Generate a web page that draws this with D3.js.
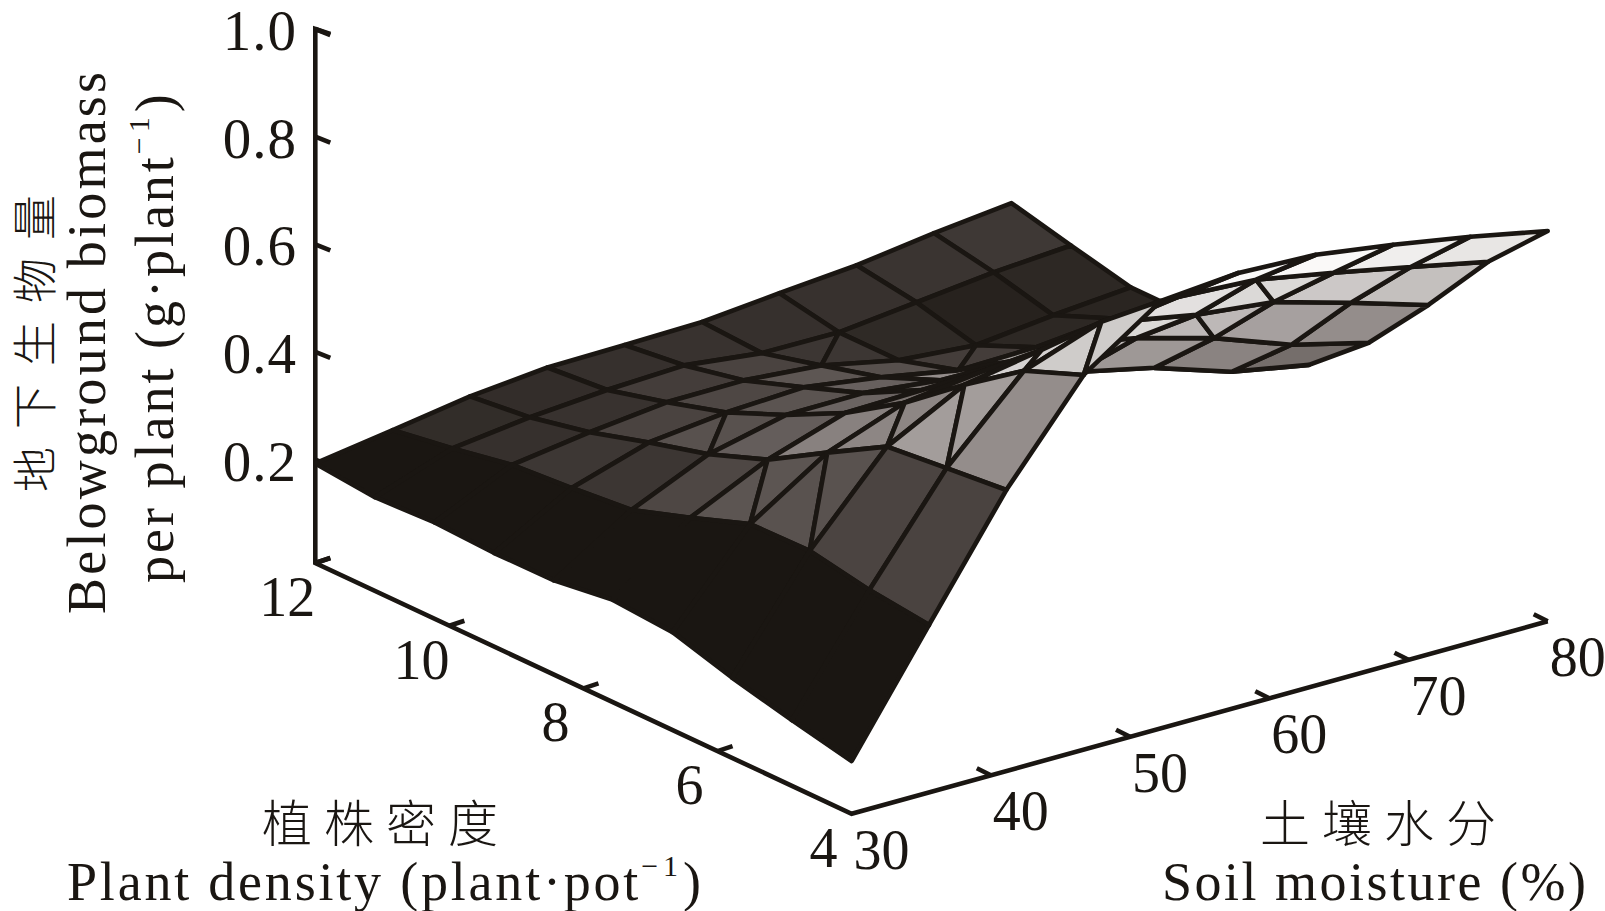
<!DOCTYPE html>
<html><head><meta charset="utf-8">
<style>html,body{margin:0;padding:0;background:#fff}svg{display:block}text{fill:#1a1612}</style>
<script src="https://cdn.jsdelivr.net/npm/d3@7"></script></head><body>
<svg id="c" width="1605" height="911"></svg>
<script>
const moistureGrid=[30,35.56,41.11,46.67,52.22,57.78,63.33,68.89,74.44,80];
const densityGrid=[4,4.89,5.78,6.67,7.56,8.44,9.33,10.22,11.11,12];
const biomass=[
[.106,.319,.530,.704,.802,.814,.808,.787,.762,.733],
[.130,.332,.519,.660,.711,.718,.710,.683,.654,.624],
[.157,.353,.507,.582,.607,.620,.593,.577,.536,.492],
[.190,.351,.444,.497,.515,.525,.498,.458,.406,.370],
[.198,.311,.379,.426,.429,.404,.383,.351,.304,.277],
[.183,.274,.338,.371,.372,.356,.354,.342,.307,.271],
[.182,.263,.308,.324,.331,.310,.283,.286,.300,.266],
[.187,.254,.275,.291,.292,.280,.250,.238,.254,.266],
[.182,.233,.251,.262,.268,.251,.250,.266,.282,.292],
[.193,.215,.238,.252,.254,.257,.271,.283,.303,.319]];
const cellTone=[
[26,74,150,208,220,250,250,240,232],
[26,75,165,214,228,227,220,205,197],
[26,89,143,120,205,220,190,168,150],
[26,92,138,122,150,190,160,140,118],
[26,78,101,108,125,150,160,130,110],
[26,60,88,91,104,150,170,150,130],
[26,61,74,78,93,87,68,45,42],
[26,54,56,68,74,60,47,39,45],
[26,50,51,54,56,54,55,58,62]];
const foldedCells=[[1,2],[1,3],[2,1],[2,2],[2,5],[3,0],[3,1],[5,7],[6,1],[6,2],[6,6]];
const zTicks=[1.0,0.8,0.6,0.4,0.2];
const moistureTicks=[30,40,50,60,70,80];
const densityTicks=[12,10,8,6,4];
const ink="#1a1612";
const base=[851.6,813.8];
const mX=d3.scaleLinear([30,80],[0,696.1]),mY=d3.scaleLinear([30,80],[0,-192.5]);
const dX=d3.scaleLinear([4,12],[0,-536.3]),dY=d3.scaleLinear([4,12],[0,-250.8]);
const zY=d3.scaleLinear([0.008,1],[0,-534]);
const tone=d3.scaleLinear([26,74,150,250],[ink,"#4a4340","#948d8b","#faf9f8"]).clamp(true);
const project=(m,d,z)=>[base[0]+mX(m)+dX(d),base[1]+mY(m)+dY(d)+zY(z)];
const onFloor=(m,d)=>project(m,d,0.008);
const svg=d3.select("#c");
const V=(k,j)=>project(moistureGrid[k],densityGrid[j],biomass[j][k]);
// axes
const axisG=svg.append("g").attr("stroke",ink).attr("stroke-width",4.6).attr("fill","none").attr("stroke-linecap","butt").attr("stroke-linejoin","miter");
const seg=(a,b)=>axisG.append("path").attr("d",d3.line()([a,b]));
const c30=onFloor(30,12),axisTop=project(30,12,1);
axisG.append("path").attr("d",d3.line()([[axisTop[0]+15,axisTop[1]+5],axisTop,c30,onFloor(30,4),onFloor(80,4)]));
zTicks.forEach(z=>{const p=project(30,12,z);seg(p,[p[0]+15,p[1]+6]);});
seg(c30,[c30[0]+15,c30[1]-5]);
densityTicks.forEach(d=>{if(d===4)return;const p=onFloor(30,d);seg(p,[p[0]+15,p[1]-5]);});
moistureTicks.forEach(m=>{if(m===30)return;const p=onFloor(m,4);seg(p,[p[0]-14,p[1]-7]);});
// surface
const surf=svg.append("g").attr("stroke",ink).attr("stroke-width",4.6).attr("stroke-linejoin","round");
const isFold=(k,j)=>foldedCells.some(c=>c[0]===k&&c[1]===j);
const poly=d3.line();
for(let j=8;j>=0;j--)for(let k=8;k>=0;k--){
 const a=V(k,j),b=V(k+1,j),c=V(k+1,j+1),e=V(k,j+1);
 const fill=tone(cellTone[j][k]);
 if(isFold(k,j)){
  surf.append("path").attr("d",poly([a,e,c])+"Z").attr("fill",fill);
  surf.append("path").attr("d",poly([a,b,c])+"Z").attr("fill",fill);
 } else surf.append("path").attr("d",poly([a,b,c,e])+"Z").attr("fill",fill);
}
// labels
const serif="'Liberation Serif','Times New Roman',serif",cjk="'Noto Sans CJK SC',sans-serif";
const T=(x,y,s,size,anchor="middle",fam=serif)=>svg.append("text").attr("x",x).attr("y",y).attr("font-family",fam).attr("font-size",size).attr("text-anchor",anchor).text(s);
zTicks.forEach(z=>{const p=project(30,12,z);T(297,p[1]+21,z.toFixed(1),57,"end").attr("letter-spacing",1);});
densityTicks.forEach(d=>{const p=onFloor(30,d);T(p[0]-28,p[1]+53,d,56);});
moistureTicks.forEach(m=>{const p=onFloor(m,4);T(p[0]+30,p[1]+55,m,56);});
T(386,842,"植株密度",50,"middle",cjk).attr("letter-spacing",12).attr("font-weight",300);
T(1384,842,"土壤水分",50,"middle",cjk).attr("letter-spacing",12).attr("font-weight",300);
function sup(t,parts){let up=false;parts.forEach(([s,isSup])=>{const ts=t.append("tspan").text(s);if(isSup){ts.attr("font-size",30).attr("dy",-24).attr("letter-spacing",5);up=true;}else if(up){ts.attr("dy",24);up=false;}});}
sup(T(67,900,"",54,"start").attr("letter-spacing",2.8),[["Plant density (plant·pot",0],["−1",1],[")",0]]);
T(1162,900,"Soil moisture (%)",54,"start").attr("letter-spacing",2.5);
const V1=(x,y,s,size,fam=serif)=>svg.append("text").attr("transform",`translate(${x},${y}) rotate(-90)`).attr("font-family",fam).attr("font-size",size).text(s);
V1(52,492,"地下生物量",45,cjk).attr("letter-spacing",18).attr("font-weight",300);
V1(105,614,"Belowground biomass",54).attr("letter-spacing",3.2);
sup(V1(173,583,"",54).attr("letter-spacing",3),[["per plant (g·plant",0],["−1",1],[")",0]]);
</script></body></html>
